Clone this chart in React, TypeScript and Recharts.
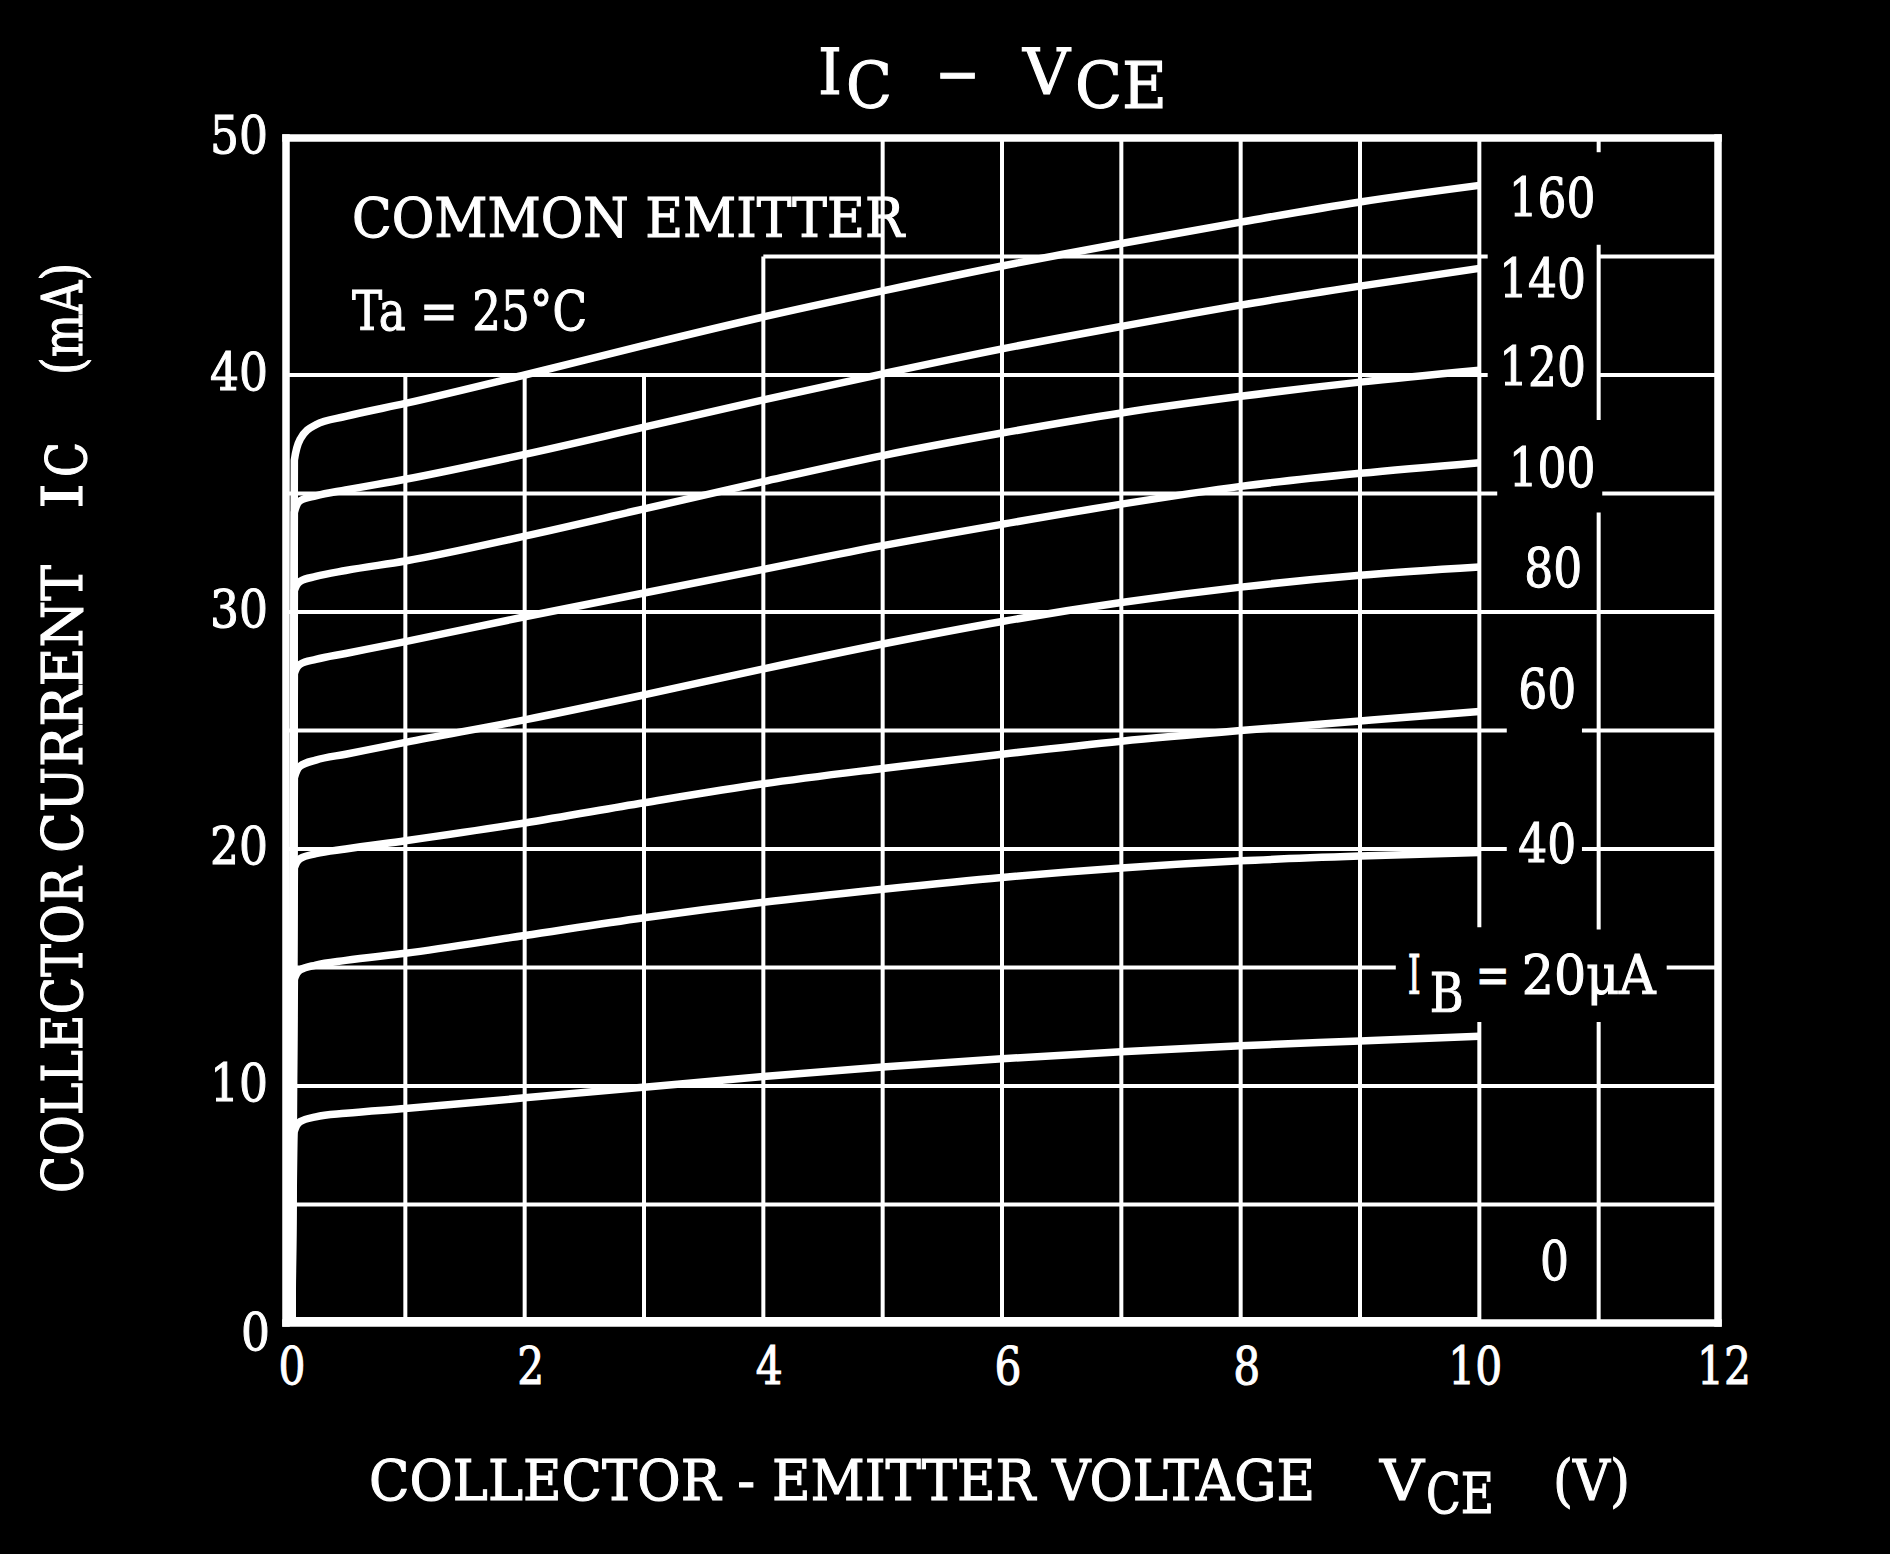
import React from 'react'
import { LineChart, Line, XAxis, YAxis, ReferenceLine, ReferenceDot } from 'recharts'

const FONT = '"DejaVu Serif", "Liberation Serif", serif'
const W = 1890
const H = 1554

// collector-emitter voltage sample points (V)
const vce = [0.05, 0.07, 0.12, 0.25, 0.5, 1, 2, 3, 4, 5, 6, 7, 8, 9, 10]

// collector current (mA) for each base current
const ib160 = [0, 36.4, 37.3, 37.9, 38.25, 38.8, 40.0, 41.25, 42.45, 43.55, 44.6, 45.55, 46.45, 47.3, 48.0]
const ib140 = [0, 34.2, 34.7, 34.9, 35.15, 35.6, 36.65, 37.8, 38.95, 40.05, 41.1, 42.05, 42.95, 43.75, 44.5]
const ib120 = [0, 30.9, 31.3, 31.5, 31.75, 32.15, 33.2, 34.35, 35.5, 36.6, 37.55, 38.4, 39.1, 39.7, 40.2]
const ib100 = [0, 27.4, 27.8, 28.0, 28.25, 28.75, 29.8, 30.8, 31.8, 32.8, 33.7, 34.55, 35.3, 35.85, 36.3]
const ib80 = [0, 23.0, 23.5, 23.75, 24.0, 24.5, 25.45, 26.5, 27.6, 28.65, 29.6, 30.4, 31.05, 31.55, 31.9]
const ib60 = [0, 19.2, 19.6, 19.8, 20.0, 20.35, 21.1, 21.95, 22.75, 23.4, 24.0, 24.55, 25.0, 25.4, 25.8]
const ib40 = [0, 14.5, 14.9, 15.1, 15.3, 15.6, 16.35, 17.1, 17.75, 18.3, 18.8, 19.2, 19.5, 19.7, 19.85]
const ib20 = [0, 8.1, 8.5, 8.7, 8.85, 9.05, 9.5, 9.95, 10.4, 10.8, 11.15, 11.45, 11.7, 11.9, 12.1]
const ib0 = [0.1, 0.1, 0.1, 0.1, 0.1, 0.1, 0.1, 0.1, 0.1, 0.1, 0.1, 0.1, 0.1, 0.1, 0.1]

const xTicks = [0, 2, 4, 6, 8, 10, 12]
const yTicks = [0, 10, 20, 30, 40, 50]

const seriesKeys = ['ib0', 'ib20', 'ib40', 'ib60', 'ib80', 'ib100', 'ib120', 'ib140', 'ib160']

const data = vce.map((v, i) => ({
  vce: v,
  ib0: ib0[i],
  ib20: ib20[i],
  ib40: ib40[i],
  ib60: ib60[i],
  ib80: ib80[i],
  ib100: ib100[i],
  ib120: ib120[i],
  ib140: ib140[i],
  ib160: ib160[i],
}))

// grid lines, broken where the curve labels sit
const hGrid = [
  { y: 45, from: 4, to: 10.07 },
  { y: 45, from: 11, to: 12 },
  { y: 40, from: 0, to: 10.07 },
  { y: 40, from: 11, to: 12 },
  { y: 35, from: 0, to: 10.15 },
  { y: 35, from: 11.03, to: 12 },
  { y: 30, from: 0, to: 12 },
  { y: 25, from: 0, to: 10.23 },
  { y: 25, from: 10.86, to: 12 },
  { y: 20, from: 0, to: 10.23 },
  { y: 20, from: 10.86, to: 12 },
  { y: 15, from: 0, to: 9.3 },
  { y: 15, from: 11.57, to: 12 },
  { y: 10, from: 0, to: 12 },
  { y: 5, from: 0, to: 12 },
]
const vGrid = [
  { x: 1, from: 0, to: 40 },
  { x: 2, from: 0, to: 40 },
  { x: 3, from: 0, to: 40 },
  { x: 4, from: 0, to: 45 },
  { x: 5, from: 0, to: 50 },
  { x: 6, from: 0, to: 50 },
  { x: 7, from: 0, to: 50 },
  { x: 8, from: 0, to: 50 },
  { x: 9, from: 0, to: 50 },
  { x: 10, from: 16.7, to: 50 },
  { x: 10, from: 0, to: 12.7 },
  { x: 11, from: 49.4, to: 50 },
  { x: 11, from: 38.1, to: 45.5 },
  { x: 11, from: 16.6, to: 34.2 },
  { x: 11, from: 0, to: 12.7 },
]
const frame = [
  [{ x: 0, y: 0 }, { x: 0, y: 50 }],
  [{ x: 0, y: 50 }, { x: 12, y: 50 }],
  [{ x: 12, y: 50 }, { x: 12, y: 0 }],
  [{ x: 0, y: 0 }, { x: 12, y: 0 }],
]

const curveLabels = [
  { text: '160', vce: 10.61, ic: 47.5 },
  { text: '140', vce: 10.53, ic: 44.1 },
  { text: '120', vce: 10.53, ic: 40.4 },
  { text: '100', vce: 10.61, ic: 36.1 },
  { text: '80', vce: 10.62, ic: 31.9 },
  { text: '60', vce: 10.57, ic: 26.8 },
  { text: '40', vce: 10.57, ic: 20.25 },
  { text: '0', vce: 10.63, ic: 2.66 },
]

const white = '#ffffff'

function T({ x, y, w, size = 56, anchor = 'start', children, transform }: any) {
  return (
    <text
      x={x}
      y={y}
      transform={transform}
      fill={white}
      stroke={white}
      strokeWidth={1.1}
      fontFamily={FONT}
      fontSize={size}
      textAnchor={anchor}
      textLength={w}
      lengthAdjust={w ? 'spacingAndGlyphs' : undefined}
    >
      {children}
    </text>
  )
}

function YTick(props: any) {
  const { x, y, payload } = props
  const s = String(payload.value)
  const zero = payload.value === 0
  return (
    <T x={zero ? x + 2 : x} y={zero ? y + 27 : y + 15} w={s.length * 29} size={52} anchor="end">
      {s}
    </T>
  )
}

function XTick(props: any) {
  const { x, y, payload } = props
  const s = String(payload.value)
  const dx = payload.value === 10 ? -4 : 6
  return (
    <T x={x + dx} y={y + 61} w={s.length * 27} size={52} anchor="middle">
      {s}
    </T>
  )
}

function CurveLabel(props: any) {
  const vb = props.viewBox || {}
  const cx = (vb.x ?? 0) + (vb.width ?? 0) / 2
  const cy = (vb.y ?? 0) + (vb.height ?? 0) / 2
  return (
    <T x={cx} y={cy + 20} w={props.text.length * 29} size={54} anchor="middle">
      {props.text}
    </T>
  )
}

function IbLabel(props: any) {
  const vb = props.viewBox || {}
  const x = (vb.x ?? 0) + (vb.width ?? 0) / 2
  const cy = (vb.y ?? 0) + (vb.height ?? 0) / 2
  return (
    <g>
      <T x={x} y={cy + 15} w={13} size={54}>I</T>
      <T x={x + 22} y={cy + 33} w={34} size={54}>B</T>
      <T x={x + 68} y={cy + 15} w={34} size={54}>=</T>
      <T x={x + 114} y={cy + 15} w={134} size={54}>20μA</T>
    </g>
  )
}

export default function App() {
  return (
    <div style={{ position: 'absolute', left: 0, top: 0, width: W, height: H, background: '#000' }}>
      <LineChart
        width={W}
        height={H}
        data={data}
        margin={{ top: 138, right: 172, bottom: 131, left: 186 }}
      >
        <XAxis
          type="number"
          dataKey="vce"
          domain={[0, 12]}
          ticks={xTicks}
          interval={0}
          allowDataOverflow
          height={100}
          axisLine={false}
          tickLine={false}
          tickSize={0}
          tickMargin={0}
          tick={<XTick />}
        />
        <YAxis
          type="number"
          domain={[0, 50]}
          ticks={yTicks}
          interval={0}
          allowDataOverflow
          width={100}
          axisLine={false}
          tickLine={false}
          tickSize={0}
          tickMargin={18}
          tick={<YTick />}
        />
        {hGrid.map((g, i) => (
          <ReferenceLine
            key={`h${i}`}
            segment={[{ x: g.from, y: g.y }, { x: g.to, y: g.y }]}
            stroke={white}
            strokeWidth={4}
          />
        ))}
        {vGrid.map((g, i) => (
          <ReferenceLine
            key={`v${i}`}
            segment={[{ x: g.x, y: g.from }, { x: g.x, y: g.to }]}
            stroke={white}
            strokeWidth={4}
          />
        ))}
        {frame.map((seg, i) => (
          <ReferenceLine key={`f${i}`} segment={seg} stroke={white} strokeWidth={7.5} strokeLinecap="square" />
        ))}
        {seriesKeys.map((k) => (
          <Line
            key={k}
            type="monotone"
            dataKey={k}
            stroke={white}
            strokeWidth={7.5}
            dot={false}
            activeDot={false}
            isAnimationActive={false}
          />
        ))}
        {curveLabels.map((l) => (
          <ReferenceDot
            key={l.text}
            x={l.vce}
            y={l.ic}
            r={1}
            fill="none"
            stroke="none"
            label={<CurveLabel text={l.text} />}
          />
        ))}
        <ReferenceDot x={9.4} y={14.5} r={1} fill="none" stroke="none" label={<IbLabel />} />
      </LineChart>

      <svg width={W} height={H} style={{ position: 'absolute', left: 0, top: 0, pointerEvents: 'none' }}>
        {/* title */}
        <T x={818} y={94} w={24} size={64}>I</T>
        <T x={846} y={108} w={46} size={64}>C</T>
        <T x={935} y={96} w={45} size={64}>−</T>
        <T x={1023} y={94} w={47} size={64}>V</T>
        <T x={1075} y={108} w={92} size={64}>CE</T>

        {/* notes */}
        <T x={352} y={237} w={552} size={54}>COMMON EMITTER</T>
        <T x={352} y={330} w={235} size={54}>Ta = 25°C</T>

        {/* x axis title */}
        <T x={369} y={1500} w={946}>COLLECTOR - EMITTER VOLTAGE</T>
        <T x={1380} y={1500} w={44}>V</T>
        <T x={1426} y={1513} w={68}>CE</T>
        <T x={1553} y={1500} w={77}>(V)</T>

        {/* y axis title */}
        <T x={0} y={0} w={326} transform="translate(82 1193) rotate(-90)">COLLECTOR</T>
        <T x={0} y={0} w={288} transform="translate(82 853) rotate(-90)">CURRENT</T>
        <T x={0} y={0} w={26} transform="translate(82 509) rotate(-90)">I</T>
        <T x={0} y={0} w={35} transform="translate(86 477) rotate(-90)">C</T>
        <T x={0} y={0} w={112} transform="translate(82 375) rotate(-90)">(mA)</T>
      </svg>
    </div>
  )
}
